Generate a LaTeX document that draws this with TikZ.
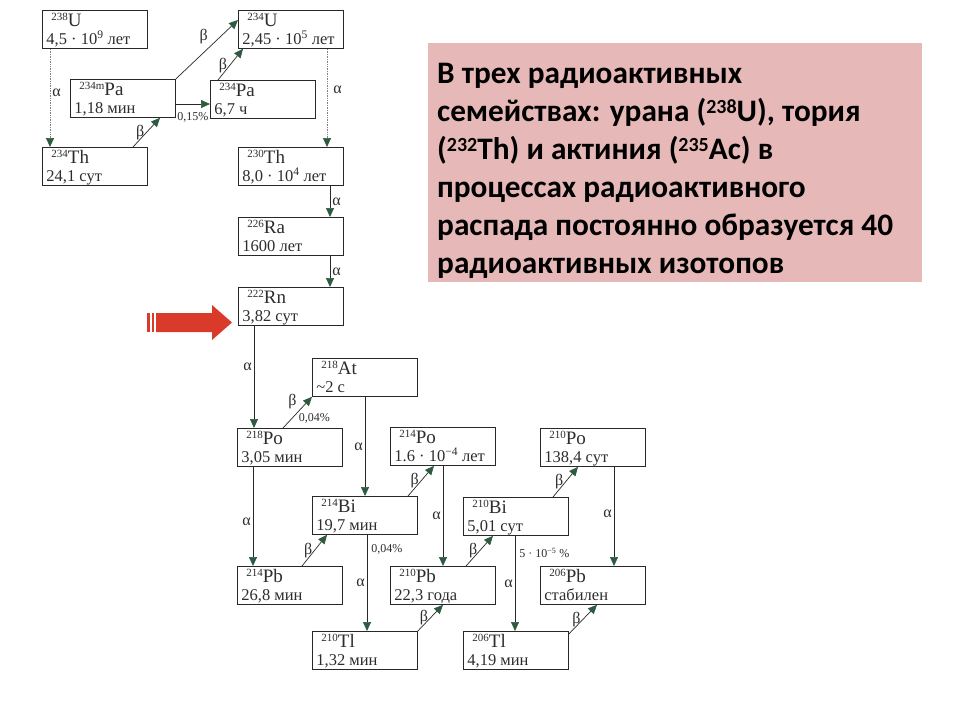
\documentclass[tikz,border=0pt]{standalone}
\usepackage{fontspec}
\setmainfont{Liberation Serif}
\newfontfamily\pfont{Carlito}
\usetikzlibrary{arrows.meta,calc}
\definecolor{pinkc}{RGB}{230,185,184}
\definecolor{redc}{RGB}{218,58,42}
\definecolor{tipc}{RGB}{45,90,65}
\definecolor{boxc}{RGB}{40,40,40}
\definecolor{txtc}{RGB}{45,45,45}
\newcommand{\isobox}[3]{\parbox[b][38pt][t]{105pt}{\fontsize{16.5}{18}\selectfont\hspace*{9pt}\rule{0pt}{16.5pt}\raisebox{6pt}{\fontsize{11}{11}\selectfont #1}{\fontsize{19}{19}\selectfont #2}\par\hspace*{4pt}#3}}
\newcommand{\nsup}[1]{\raisebox{7.5pt}{\fontsize{20}{20}\selectfont #1}}
\begin{document}
\begin{tikzpicture}[x=1pt,y=-1pt,
 iso/.style={draw=boxc,line width=0.8pt,inner sep=0pt,anchor=north west,text=txtc},
 arr/.style={draw=boxc,line width=0.7pt,-{Triangle[length=9pt,width=8pt,color=tipc]}},
 dotarr/.style={arr,draw=gray,densely dotted},
 lab/.style={font=\fontsize{16}{16}\selectfont,text=txtc,inner sep=2pt},
 pct/.style={font=\fontsize{12}{12}\selectfont,text=txtc,inner sep=1pt}]
\fill[white] (0,0) rectangle (960,720);
\useasboundingbox (0,0) rectangle (960,720);

% boxes
\node[iso] (U238) at (42,10) {\isobox{238}{U}{4,5 · 10\textsuperscript{9} лет}};
\node[iso] (U234) at (238,10) {\isobox{234}{U}{2,45 · 10\textsuperscript{5} лет}};
\node[iso] (Pa234m) at (70,79) {\isobox{234m}{Pa}{1,18 мин}};
\node[iso] (Pa234) at (210,80) {\isobox{234}{Pa}{6,7 ч}};
\node[iso] (Th234) at (42,147) {\isobox{234}{Th}{24,1 сут}};
\node[iso] (Th230) at (238,147) {\isobox{230}{Th}{8,0 · 10\textsuperscript{4} лет}};
\node[iso] (Ra226) at (238,217) {\isobox{226}{Ra}{1600 лет}};
\node[iso] (Rn222) at (238,287) {\isobox{222}{Rn}{3,82 сут}};
\node[iso] (At218) at (312,358) {\isobox{218}{At}{\textasciitilde 2 с}};
\node[iso] (Po218) at (237,428) {\isobox{218}{Po}{3,05 мин}};
\node[iso] (Po214) at (390,427) {\isobox{214}{Po}{1.6 · 10\textsuperscript{−4} лет}};
\node[iso] (Po210) at (540,428) {\isobox{210}{Po}{138,4 сут}};
\node[iso] (Bi214) at (312,496) {\isobox{214}{Bi}{19,7 мин}};
\node[iso] (Bi210) at (463,497) {\isobox{210}{Bi}{5,01 сут}};
\node[iso] (Pb214) at (237,566) {\isobox{214}{Pb}{26,8 мин}};
\node[iso] (Pb210) at (390,566) {\isobox{210}{Pb}{22,3 года}};
\node[iso] (Pb206) at (540,566) {\isobox{206}{Pb}{стабилен}};
\node[iso] (Tl210) at (312,631) {\isobox{210}{Tl}{1,32 мин}};
\node[iso] (Tl206) at (463,631) {\isobox{206}{Tl}{4,19 мин}};

% alpha decays (vertical)
\draw[dotarr] ($(U238.south west)+(8,0)$) -- ($(Th234.north west)+(8,0)$) node[lab,pos=.45,right]{α};
\draw[dotarr] ($(U234.south west)+(89,0)$) -- ($(Th230.north west)+(89,0)$) node[lab,pos=.42,right=4pt]{α};
\draw[arr] ($(Th230.south west)+(92,0)$) -- ($(Ra226.north west)+(92,0)$) node[lab,midway,right]{α};
\draw[arr] ($(Ra226.south west)+(92,0)$) -- ($(Rn222.north west)+(92,0)$) node[lab,midway,right]{α};
\draw[arr] ($(Rn222.south west)+(16,0)$) -- ($(Po218.north west)+(17,0)$) node[lab,pos=.4,left]{α};
\draw[arr] ($(At218.south west)+(53,0)$) -- ($(Bi214.north west)+(53,0)$) node[lab,midway,left]{α};
\draw[arr] ($(Po218.south west)+(16,0)$) -- ($(Pb214.north west)+(16,0)$) node[lab,pos=.55,left]{α};
\draw[arr] ($(Po214.south west)+(53,0)$) -- ($(Pb210.north west)+(53,0)$) node[lab,pos=.5,left]{α};
\draw[arr] ($(Bi214.south west)+(55,0)$) -- ($(Tl210.north west)+(55,0)$) node[pct,pos=.15,right=3pt]{0,04\%} node[lab,pos=.5,left]{α};
\draw[arr] ($(Po210.south west)+(74,0)$) -- ($(Pb206.north west)+(74,0)$) node[lab,pos=.47,left]{α};
\draw[arr] ($(Bi210.south west)+(52,0)$) -- ($(Tl206.north west)+(52,0)$) node[pct,pos=.18,right=3pt]{5 · 10\textsuperscript{−5} \%} node[lab,pos=.5,left]{α};

% beta decays (diagonal)
\draw[arr] ($(Th234.north west)+(91,0)$) -- ($(Pa234m.south west)+(90,0)$) node[lab,midway,left]{β};
\draw[arr] (Pa234m.north east) -- ($(U234.north west)+(0,10)$) node[lab,pos=.55,above left]{β};
\draw[arr] ($(Pa234m.north east)+(0,25)$) -- ($(Pa234.north west)+(0,24)$) node[pct,midway,below=7pt]{0,15\%};
\draw[arr] ($(Pa234.north west)+(8,0)$) -- ($(U234.south west)+(5,0)$) node[lab,pos=.45,left]{β};
\draw[arr] ($(Po218.north west)+(46,0)$) -- (At218.south west) node[lab,pos=.55,above left]{β} node[pct,pos=.5,below right]{0,04\%};
\draw[arr] ($(Bi214.north west)+(96,0)$) -- ($(Po214.south west)+(44,0)$) node[lab,midway,left]{β};
\draw[arr] ($(Pb214.north west)+(65,0)$) -- ($(Bi214.south west)+(15,0)$) node[lab,midway,left]{β};
\draw[arr] ($(Pb210.north west)+(76,0)$) -- ($(Bi210.south west)+(30,0)$) node[lab,midway,left]{β};
\draw[arr] ($(Bi210.north west)+(90,0)$) -- ($(Po210.south west)+(38,0)$) node[lab,midway,left]{β};
\draw[arr] (Tl210.north east) -- ($(Pb210.south west)+(53,0)$) node[lab,midway,left]{β};
\draw[arr] ($(Tl206.north east)+(0,3)$) -- ($(Pb206.south west)+(57,0)$) node[lab,midway,left]{β};

% red pointer arrow
\fill[redc] (147,313) rectangle (149.5,332);
\fill[redc] (151.5,313) rectangle (154,332);
\fill[redc] (156,313) -- (212,313) -- (212,305) -- (232,322.5) -- (212,340) -- (212,332) -- (156,332) -- cycle;

% note
\node[fill=pinkc,inner sep=0pt,anchor=north west] (note) at (428,43) {\parbox[b][239pt][t]{494pt}{\pfont\bfseries\fontsize{31.3}{38}\selectfont\raggedright\leftskip=9pt\rule{0pt}{40pt}В трех радиоактивных\\ семействах: урана (\nsup{238}U), тория\\ (\nsup{232}Th) и актиния (\nsup{235}Ac) в\\ процессах радиоактивного\\ распада постоянно образуется 40\\ радиоактивных изотопов}};
\end{tikzpicture}
\end{document}
